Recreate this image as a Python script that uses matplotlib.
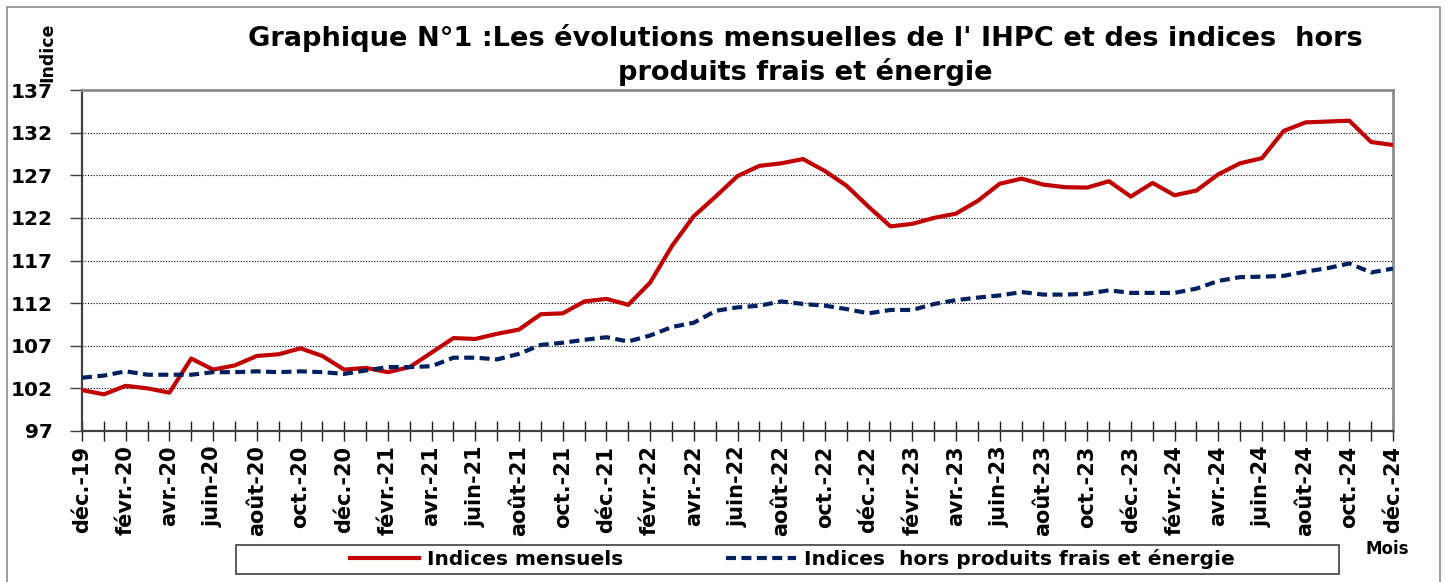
import matplotlib.pyplot as plt
from matplotlib.patches import Rectangle

# mois (déc.-19 -> déc.-24)
noms_mois = ["janv.", "févr.", "mars", "avr.", "mai", "juin",
             "juil.", "août", "sept.", "oct.", "nov.", "déc."]
mois = ["déc.-19"] + [f"{m}-{a}" for a in range(20, 25) for m in noms_mois]

# Indices mensuels (IHPC)
ihpc = [101.8, 101.3, 102.3, 102.0, 101.5, 105.5, 104.2, 104.7, 105.8, 106.0,
        106.7, 105.8, 104.2, 104.4, 103.9, 104.5, 106.2, 107.9, 107.8, 108.4,
        108.9, 110.7, 110.8, 112.2, 112.5, 111.8, 114.4, 118.7, 122.2, 124.5,
        126.9, 128.1, 128.4, 128.9, 127.5, 125.75, 123.3, 121.0, 121.3, 122.0,
        122.5, 124.0, 126.0, 126.6, 125.9, 125.6, 125.55, 126.3, 124.5, 126.1,
        124.65, 125.2, 127.1, 128.4, 129.0, 132.2, 133.2, 133.3, 133.4, 130.9,
        130.55]

# Indices hors produits frais et énergie
hors_pfe = [103.25, 103.5, 104.0, 103.6, 103.6, 103.6, 103.9, 103.9, 104.0, 103.9,
            104.0, 103.9, 103.7, 104.1, 104.5, 104.5, 104.6, 105.6, 105.6, 105.4,
            106.05, 107.1, 107.35, 107.7, 108.0, 107.5, 108.2, 109.2, 109.7, 111.1,
            111.5, 111.7, 112.2, 111.9, 111.7, 111.3, 110.8, 111.2, 111.2, 111.9,
            112.35, 112.65, 112.9, 113.3, 113.0, 113.0, 113.1, 113.5, 113.2, 113.2,
            113.2, 113.7, 114.6, 115.05, 115.1, 115.2, 115.7, 116.1, 116.65, 115.6,
            116.05]

y_ticks = [97, 102, 107, 112, 117, 122, 127, 132, 137]

plt.rcParams['font.family'] = 'DejaVu Sans'
plt.rcParams['font.weight'] = 'bold'

W, H = 1445, 582
fig = plt.figure(figsize=(W / 100, H / 100), dpi=100)
ax = fig.add_axes([82 / W, 1 - 431 / H, (1393 - 82) / W, (431 - 90) / H])

x = list(range(len(mois)))
ax.plot(x, ihpc, color="#C00000", lw=3, label="Indices mensuels", zorder=3)
ax.plot(x, hors_pfe, color="#002060", lw=3, dashes=(2.4, 1.3),
        label="Indices  hors produits frais et énergie", zorder=3)

ax.set_xlim(0, len(mois) - 1)
ax.set_ylim(97, 137)
ax.set_yticks(y_ticks)
ax.set_yticklabels([str(v) for v in y_ticks], fontsize=14.5, fontweight='bold')
ax.yaxis.grid(True, color='black', lw=0.8, linestyle=(0, (1, 1.5)))

ax.set_xticks(x[::2])
ax.set_xticklabels(mois[::2], rotation=90, fontsize=15, fontweight='bold', va='top')
ax.set_xticks(x[1::2], minor=True)
ax.tick_params(axis='x', which='both', direction='inout', length=15, width=1,
               color='#202020', pad=3)
ax.tick_params(axis='y', direction='out', length=9, width=1, color='#404040', pad=12)

ax.spines['top'].set_color('#8c8c8c')
ax.spines['right'].set_color('#8c8c8c')
ax.spines['top'].set_linewidth(2)
ax.spines['right'].set_linewidth(2)
ax.spines['left'].set_color('#404040')
ax.spines['bottom'].set_color('#404040')
ax.spines['left'].set_linewidth(1.6)
ax.spines['bottom'].set_linewidth(1.6)

fig.text(805 / W, 1 - 55 / H,
         "Graphique N°1 :Les évolutions mensuelles de l' IHPC et des indices  hors\n"
         "produits frais et énergie",
         ha='center', va='center', fontsize=19.6, fontweight='bold', linespacing=1.25)
fig.text(47 / W, 1 - 52 / H, "Indice", rotation=90, ha='center', va='center',
         fontsize=12.5, fontweight='bold')
fig.text(1387 / W, 1 - 549 / H, "Mois", ha='center', va='center',
         fontsize=12, fontweight='bold')

leg = ax.legend(loc='center', bbox_to_anchor=(792 / W, 1 - 559 / H),
                bbox_transform=fig.transFigure, ncol=2, frameon=False,
                fontsize=14.5, handlelength=3.45, handletextpad=0.4,
                columnspacing=5.1)
for t in leg.get_texts():
    t.set_fontweight('bold')

fig.patches.append(Rectangle((236 / W, 1 - 574 / H), 1103 / W, 29 / H,
                             transform=fig.transFigure, fill=False,
                             edgecolor='#404040', lw=1.2))
fig.patches.append(Rectangle((7 / W, -0.05), 1433 / W, 1 - 7 / H + 0.05,
                             transform=fig.transFigure, fill=False,
                             edgecolor='#8c8c8c', lw=1.2))

fig.savefig("out.png", dpi=100)
